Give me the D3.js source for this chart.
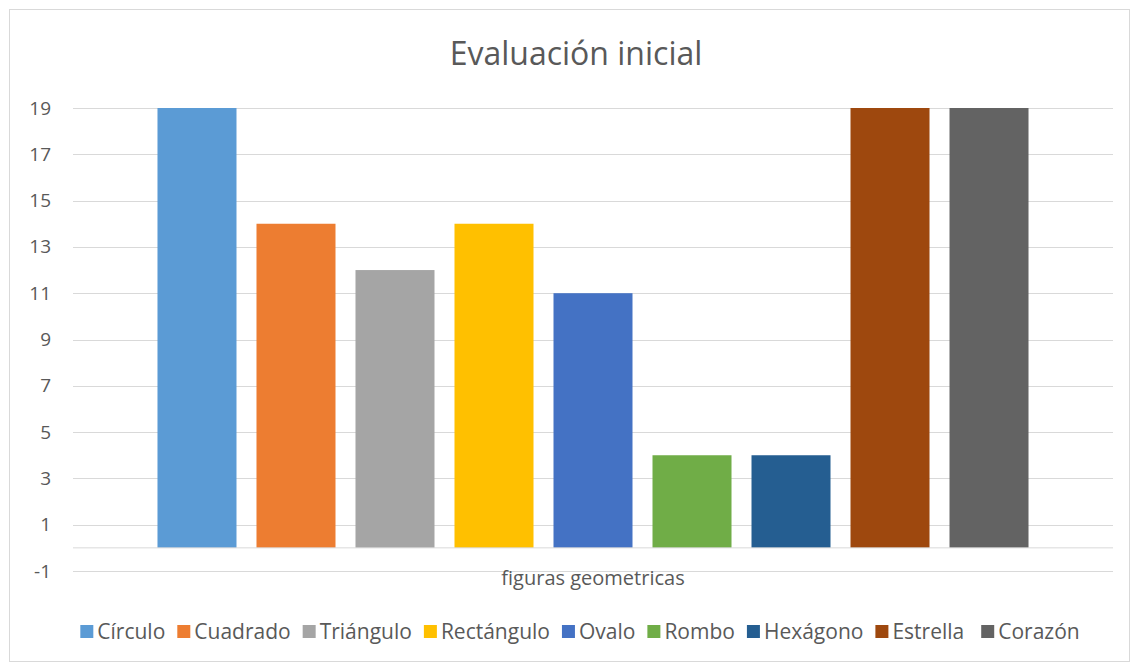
<!DOCTYPE html>
<html><head><meta charset="utf-8">
<script src="https://cdn.jsdelivr.net/npm/d3@7"></script>
<style>body{margin:0;background:#fff}svg{display:block}text{font-family:"Open Sans",sans-serif;fill:#595959}</style>
</head><body>
<script>
const title = "Evaluación inicial";
const category = ["figuras geometricas"];
const seriesNames = ["Círculo","Cuadrado","Triángulo","Rectángulo","Ovalo","Rombo","Hexágono","Estrella","Corazón"];
const seriesValues = [19,14,12,14,11,4,4,19,19];
const seriesColors = ["#5B9BD5","#ED7D31","#A5A5A5","#FFC000","#4472C4","#70AD47","#255E91","#9E480E","#636363"];
const yTicks = [-1,1,3,5,7,9,11,13,15,17,19];

const W = 1132, H = 663;
const svg = d3.select("body").append("svg").attr("width", W).attr("height", H);
svg.append("rect").attr("x",9.5).attr("y",9.5).attr("width",1120).attr("height",652)
  .attr("fill","#fff").attr("stroke","#D9D9D9").attr("stroke-width",1);

const plot = {left:73, right:1113, top:108, bottom:571};
const y = d3.scaleLinear().domain([-1,19]).range([plot.bottom, plot.top]);
const x0 = d3.scaleBand().domain(category).range([plot.left, plot.right]).paddingInner(0).paddingOuter(0.097);
const x1 = d3.scaleBand().domain(seriesNames).range([0, x0.bandwidth()]).paddingInner(0.202).paddingOuter(0);

// gridlines
svg.append("g").selectAll("line").data(yTicks).join("line")
  .attr("x1", plot.left).attr("x2", plot.right)
  .attr("y1", d => Math.round(y(d)) + 0.5).attr("y2", d => Math.round(y(d)) + 0.5)
  .attr("stroke", "#D9D9D9").attr("stroke-width", 1);

// y axis labels
const yAxis = d3.axisLeft(y).tickValues(yTicks).tickSize(0).tickPadding(0).tickFormat(d => String(d));
const ga = svg.append("g").attr("transform", `translate(51,0)`).call(yAxis);
ga.select(".domain").remove();
ga.selectAll("text").style("font-family","'Open Sans',sans-serif").style("font-size","19px").attr("fill","#595959");

// bars
const g = svg.append("g").attr("transform", `translate(${x0(category[0])},0)`);
g.selectAll("rect").data(seriesNames).join("rect")
  .attr("x", d => x1(d))
  .attr("width", x1.bandwidth())
  .attr("y", (d,i) => y(seriesValues[i]))
  .attr("height", (d,i) => y(0) - y(seriesValues[i]))
  .attr("fill", (d,i) => seriesColors[i]);

// zero axis line
svg.append("line").attr("x1", plot.left).attr("x2", plot.right)
  .attr("y1", y(0)).attr("y2", y(0)).attr("stroke","#D9D9D9").attr("stroke-width",1);

// category label
svg.append("text").attr("x", x0(category[0]) + x0.bandwidth()/2).attr("y", 585)
  .attr("text-anchor","middle").style("font-size","20px").text(category[0]);

// title
svg.append("text").attr("x", 576).attr("y", 65).attr("text-anchor","middle")
  .style("font-size","32px").text(title);

// legend
const lg = svg.append("g");
let cx = 0;
seriesNames.forEach((name,i) => {
  const it = lg.append("g");
  it.append("rect").attr("x",0).attr("y",-14).attr("width",13).attr("height",13).attr("fill",seriesColors[i]);
  const t = it.append("text").attr("x",17).attr("y",0).style("font-size","21px").text(name);
  const w = 17 + t.node().getComputedTextLength();
  it.attr("transform", `translate(${cx},0)`);
  cx += w + (name === "Estrella" ? 17 : 12);
});
const total = cx - 12;
lg.attr("transform", `translate(${580 - total/2},639)`);
</script>
</body></html>
